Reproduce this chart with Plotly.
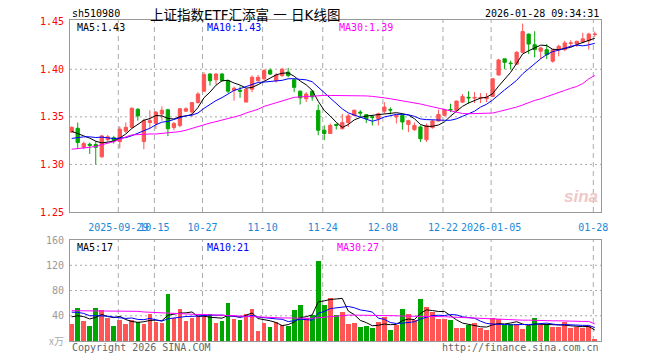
import numpy as np
import pandas as pd
import plotly.graph_objects as go

# ---------------- data ----------------
dates = [
    "2025-09-17", "2025-09-18", "2025-09-19", "2025-09-22", "2025-09-23", "2025-09-24", "2025-09-25", "2025-09-26",
    "2025-09-29", "2025-09-30", "2025-10-09", "2025-10-10", "2025-10-13", "2025-10-14", "2025-10-15", "2025-10-16",
    "2025-10-17", "2025-10-20", "2025-10-21", "2025-10-22", "2025-10-23", "2025-10-24", "2025-10-27", "2025-10-28",
    "2025-10-29", "2025-10-30", "2025-10-31", "2025-11-03", "2025-11-04", "2025-11-05", "2025-11-06", "2025-11-07",
    "2025-11-10", "2025-11-11", "2025-11-12", "2025-11-13", "2025-11-14", "2025-11-17", "2025-11-18", "2025-11-19",
    "2025-11-20", "2025-11-21", "2025-11-24", "2025-11-25", "2025-11-26", "2025-11-27", "2025-11-28", "2025-12-01",
    "2025-12-02", "2025-12-03", "2025-12-04", "2025-12-05", "2025-12-08", "2025-12-09", "2025-12-10", "2025-12-11",
    "2025-12-12", "2025-12-15", "2025-12-16", "2025-12-17", "2025-12-18", "2025-12-19", "2025-12-22", "2025-12-23",
    "2025-12-24", "2025-12-25", "2025-12-26", "2025-12-29", "2025-12-30", "2025-12-31", "2026-01-05", "2026-01-06",
    "2026-01-07", "2026-01-08", "2026-01-09", "2026-01-12", "2026-01-13", "2026-01-14", "2026-01-15", "2026-01-16",
    "2026-01-19", "2026-01-20", "2026-01-21", "2026-01-22", "2026-01-23", "2026-01-26", "2026-01-27", "2026-01-28",
]

opens = [
    1.334, 1.338, 1.318, 1.3212, 1.321, 1.308, 1.326, 1.328, 1.324, 1.335,
    1.339, 1.358, 1.324, 1.344, 1.343, 1.353, 1.3575, 1.3387, 1.341, 1.356,
    1.355, 1.365, 1.377, 1.395, 1.389, 1.395, 1.388, 1.378, 1.378, 1.3655,
    1.379, 1.388, 1.390, 1.399, 1.388, 1.3934, 1.397, 1.389, 1.377, 1.369,
    1.377, 1.3568, 1.336, 1.3325, 1.342, 1.3376, 1.344, 1.3516, 1.355, 1.3523,
    1.3501, 1.348, 1.356, 1.3578, 1.3498, 1.3515, 1.342, 1.3366, 1.3394, 1.326,
    1.3387, 1.3456, 1.3516, 1.3578, 1.3568, 1.3655, 1.3706, 1.3697, 1.3697, 1.369,
    1.3714, 1.394, 1.411, 1.4065, 1.4053, 1.4178, 1.437, 1.4258, 1.419, 1.4206,
    1.4085, 1.4206, 1.4206, 1.4272, 1.4266, 1.4287, 1.430, 1.4365,
]
highs = [
    1.340, 1.344, 1.324, 1.323, 1.3245, 1.331, 1.331, 1.330, 1.340, 1.344,
    1.360, 1.359, 1.348, 1.357, 1.356, 1.361, 1.3585, 1.3446, 1.3595, 1.360,
    1.3655, 1.376, 1.397, 1.396, 1.396, 1.396, 1.389, 1.382, 1.382, 1.380,
    1.3935, 1.394, 1.4003, 1.401, 1.396, 1.4015, 1.4014, 1.390, 1.3777, 1.376,
    1.378, 1.363, 1.341, 1.343, 1.343, 1.353, 1.353, 1.3575, 1.357, 1.353,
    1.3516, 1.3544, 1.3655, 1.360, 1.3526, 1.3526, 1.347, 1.344, 1.341, 1.3429,
    1.347, 1.3575, 1.3585, 1.3638, 1.367, 1.374, 1.377, 1.376, 1.375, 1.375,
    1.3906, 1.411, 1.411, 1.409, 1.419, 1.448, 1.4376, 1.440, 1.4237, 1.4265,
    1.421, 1.4258, 1.430, 1.4305, 1.430, 1.4384, 1.4384, 1.4395,
]
lows = [
    1.333, 1.316, 1.316, 1.311, 1.300, 1.307, 1.324, 1.322, 1.317, 1.333,
    1.338, 1.346, 1.316, 1.337, 1.337, 1.346, 1.3297, 1.336, 1.339, 1.355,
    1.350, 1.364, 1.376, 1.383, 1.384, 1.3875, 1.375, 1.367, 1.370, 1.3655,
    1.376, 1.387, 1.388, 1.394, 1.386, 1.392, 1.3916, 1.376, 1.363, 1.3655,
    1.367, 1.3307, 1.3255, 1.332, 1.3366, 1.3366, 1.3394, 1.3505, 1.350, 1.3436,
    1.341, 1.341, 1.3533, 1.3526, 1.343, 1.3366, 1.334, 1.3352, 1.3237, 1.3237,
    1.3376, 1.3453, 1.3505, 1.355, 1.356, 1.3645, 1.3638, 1.3645, 1.3645, 1.3655,
    1.3707, 1.3934, 1.400, 1.400, 1.405, 1.417, 1.416, 1.4125, 1.4108, 1.4108,
    1.407, 1.4136, 1.419, 1.4235, 1.4235, 1.4275, 1.4206, 1.434,
]
closes = [
    1.339, 1.323, 1.322, 1.3200, 1.318, 1.330, 1.329, 1.325, 1.337, 1.339,
    1.359, 1.351, 1.346, 1.346, 1.355, 1.357, 1.3376, 1.343, 1.3585, 1.3585,
    1.365, 1.374, 1.3944, 1.388, 1.395, 1.388, 1.377, 1.380, 1.377, 1.379,
    1.3916, 1.3916, 1.3986, 1.395, 1.394, 1.400, 1.3934, 1.381, 1.370, 1.374,
    1.371, 1.336, 1.3325, 1.341, 1.341, 1.344, 1.351, 1.357, 1.354, 1.348,
    1.3495, 1.3533, 1.3603, 1.3572, 1.3515, 1.3446, 1.346, 1.341, 1.327, 1.341,
    1.3456, 1.3526, 1.3575, 1.3572, 1.3666, 1.3714, 1.3700, 1.3704, 1.3704, 1.3707,
    1.390, 1.4098, 1.4073, 1.406, 1.4178, 1.4397, 1.4265, 1.4206, 1.4224, 1.4153,
    1.4205, 1.4242, 1.4277, 1.4277, 1.4294, 1.432, 1.437, 1.437,
]
# volume, 万手
volumes = [
    26.5, 53, 31.8, 23.3, 53, 48.8, 37, 23.3, 32.9, 27.6,
    34, 30.2, 27.6, 43.5, 30.2, 28.6, 74, 37, 51.4, 31.8,
    36, 39, 39, 42.4, 28.6, 31.8, 60.4, 35, 32.9, 43.5,
    50.4, 15.9, 28.6, 21.7, 29.7, 26, 23.9, 48.8, 56.7, 37,
    40.8, 126.7, 56.7, 67.8, 40.8, 45.6, 26.5, 28, 22.3, 23.3,
    20.7, 30.2, 38, 17, 26, 50.4, 42.4, 34, 66, 53.5,
    45.6, 34.5, 34.5, 32.9, 20, 20, 25, 28, 20, 17.5,
    37, 35.5, 25, 27.6, 27.6, 18.5, 24, 36, 26, 26,
    22, 22, 30.2, 20, 21.7, 20, 23, 2.7,
]
# MA30 lines
ma30 = [
    1.316, 1.3165, 1.317, 1.318, 1.319, 1.3205, 1.322, 1.324, 1.326, 1.329,
    1.331, 1.3315, 1.332, 1.332, 1.332, 1.3325, 1.333, 1.3335, 1.3345, 1.336,
    1.338, 1.340, 1.342, 1.3435, 1.345, 1.3465, 1.348, 1.350, 1.3515, 1.354,
    1.356, 1.358, 1.361, 1.363, 1.365, 1.367, 1.369, 1.3705, 1.371, 1.3715,
    1.372, 1.3725, 1.3725, 1.3725, 1.3725, 1.3725, 1.3725, 1.3725, 1.3725, 1.372,
    1.3715, 1.371, 1.370, 1.369, 1.368, 1.367, 1.366, 1.365, 1.3635, 1.362,
    1.3605, 1.359, 1.3575, 1.356, 1.3545, 1.3535, 1.3533, 1.3533, 1.3533, 1.3535,
    1.354, 1.3555, 1.357, 1.3585, 1.3603, 1.3625, 1.365, 1.3673, 1.369, 1.371,
    1.3732, 1.3755, 1.3778, 1.380, 1.3819, 1.385, 1.390, 1.3934,
]
vol_ma30 = [
    48, 48, 48, 48, 48, 48, 48, 48, 48, 47.5,
    47.5, 47, 46, 45.5, 45, 44.5, 44, 43, 42.5, 42.5,
    42, 42, 42, 41.5, 41.5, 41, 41, 40, 39.5, 39,
    38.5, 38, 37.5, 37, 37, 36.5, 36.5, 36, 36, 36,
    36, 37, 38, 39, 40, 41, 41, 41, 41, 41,
    40.5, 40.5, 40, 40, 40, 39.5, 39.5, 39.5, 39, 39,
    39, 38.5, 38.5, 38, 37.5, 37, 36.5, 36, 35.5, 35,
    34.5, 34, 33.5, 33.5, 33, 33, 33, 32.5, 32.5, 32,
    32, 32, 31.5, 31.5, 31.5, 31, 31, 27,
]
# closes / volumes of the sessions just before the window (for the 5/10-day averages)
prior_closes = [1.312, 1.316, 1.320, 1.325, 1.326, 1.333, 1.336, 1.332, 1.334]
prior_volumes = [55, 50, 60, 52, 48, 45, 38, 42, 40]

tick_dates = ["2025-09-29", "2025-10-15", "2025-10-27", "2025-11-10", "2025-11-24",
              "2025-12-08", "2025-12-22", "2026-01-05", "2026-01-28"]
tick_labels = ["2025-09-29", "10-15", "10-27", "11-10", "11-24",
               "12-08", "12-22", "2026-01-05", "01-28"]
price_ticks = [1.25, 1.30, 1.35, 1.40, 1.45]
vol_ticks = [40, 80, 120, 160]

n = len(dates)
for arr in (opens, highs, lows, closes, volumes, ma30, vol_ma30):
    assert len(arr) == n, len(arr)

# ---------------- derived ----------------
x = np.arange(n)
c_all = pd.Series(prior_closes + closes)
ma5 = c_all.rolling(5).mean().to_numpy()[len(prior_closes):]
ma10 = c_all.rolling(10).mean().to_numpy()[len(prior_closes):]
v_all = pd.Series(prior_volumes + volumes)
vma5 = v_all.rolling(5).mean().to_numpy()[len(prior_volumes):]
vma10 = v_all.rolling(10).mean().to_numpy()[len(prior_volumes):]

RED = "#ff5555"
GREEN = "#00a600"
GRID = "#aaaaaa"
up = [c >= o for o, c in zip(opens, closes)]
vol_colors = [RED if u else GREEN for u in up]

tick_pos = [dates.index(d) - 0.25 for d in tick_dates]

MONO = "DejaVu Sans Mono"

fig = go.Figure()
fig.add_trace(go.Candlestick(
    x=x, open=opens, high=highs, low=lows, close=closes,
    increasing=dict(line=dict(color=RED, width=1), fillcolor=RED),
    decreasing=dict(line=dict(color=GREEN, width=1), fillcolor=GREEN),
    whiskerwidth=0, xaxis="x", yaxis="y", hoverinfo="skip", showlegend=False,
))
for series, col in ((ma5, "#000000"), (ma10, "#0000ff"), (ma30, "#ff00ff")):
    fig.add_trace(go.Scatter(x=x, y=series, mode="lines", line=dict(color=col, width=1),
                             xaxis="x", yaxis="y", hoverinfo="skip", showlegend=False))

fig.add_trace(go.Bar(x=x, y=volumes, marker=dict(color=vol_colors, line=dict(width=0)),
                     width=0.78, xaxis="x2", yaxis="y2", hoverinfo="skip", showlegend=False))
for series, col in ((vma5, "#000000"), (vma10, "#0000ff"), (vol_ma30, "#ff00ff")):
    fig.add_trace(go.Scatter(x=x, y=series, mode="lines", line=dict(color=col, width=1),
                             xaxis="x2", yaxis="y2", hoverinfo="skip", showlegend=False))

# page pixel geometry (the page body adds an 8px offset)
OFF = 8
L, R, T, B = 70, 601, 20, 341          # plot area in page pixels
W, H = 660 - OFF, 360 - OFF             # figure size
PW, PH = R - L, B - T


def px(v):
    return (v - L) / PW


def py(v):
    return (B - v) / PH


xr = [-0.283, 88.03]
common_x = dict(range=xr, showgrid=False, tickvals=tick_pos, zeroline=False, showline=True, mirror=True,
                linecolor="#999999", linewidth=1, ticks="", fixedrange=True, automargin=False)

fig.update_layout(
    width=W, height=H, autosize=False,
    margin=dict(l=L - OFF, r=660 - R, t=T - OFF, b=360 - B, autoexpand=False),
    paper_bgcolor="white", plot_bgcolor="white",
    boxgap=0.22, bargap=0,
    xaxis=dict(**common_x, domain=[0, 1], anchor="y", ticktext=tick_labels, tickangle=0,
               tickfont=dict(family=MONO, size=10, color="#1a88d8"),
               ticklabelstandoff=6, rangeslider=dict(visible=False)),
    xaxis2=dict(**common_x, domain=[0, 1], anchor="y2", showticklabels=False),
    yaxis=dict(domain=[py(212), py(20)], range=[1.25, 1.4518], anchor="x",
               tickvals=price_ticks, ticktext=[f"{v:.2f}" for v in price_ticks],
               tickfont=dict(family=MONO, size=10, color="#ff0000"),
               showgrid=False, zeroline=False, automargin=False,
               showline=True, mirror=True, linecolor="#999999", ticks="", ticklabelstandoff=3),
    yaxis2=dict(domain=[0, py(240)], range=[0, 160], anchor="x2",
                tickvals=vol_ticks, ticktext=[str(v) for v in vol_ticks],
                tickfont=dict(family=MONO, size=10, color="#999999"),
                showgrid=False, zeroline=False, automargin=False,
                showline=True, mirror=True, linecolor="#999999", ticks="", ticklabelstandoff=3),
)

# grid lines
for xp in tick_pos:
    for xa, ya, lo, hi in (("x", "y", 1.25, 1.4518), ("x2", "y2", 0, 160)):
        fig.add_shape(type="line", xref=xa, yref=ya, x0=xp, x1=xp, y0=lo, y1=hi,
                      line=dict(color=GRID, width=1, dash="5px,4px"), layer="below")
for yv in price_ticks[1:-1]:
    fig.add_shape(type="line", xref="x", yref="y", x0=xr[0], x1=xr[1], y0=yv, y1=yv,
                  line=dict(color=GRID, width=1, dash="2px,3px"), layer="below")
for yv in vol_ticks[:-1]:
    fig.add_shape(type="line", xref="x2", yref="y2", x0=xr[0], x1=xr[1], y0=yv, y1=yv,
                  line=dict(color=GRID, width=1, dash="2px,3px"), layer="below")


def note(text, xp, yp, color="#000000", size=10, family=MONO, xanchor="left", **kw):
    fig.add_annotation(text=text, x=px(xp), y=py(yp), xref="paper", yref="paper",
                       xanchor=xanchor, yanchor="middle", showarrow=False,
                       font=dict(family=family, size=size, color=color), **kw)


note("sh510980", 70, 13)
note("上证指数ETF汇添富 一 日K线图", 245, 15, size=13.5,
     family="DejaVu Sans, Noto Sans CJK SC", xanchor="center", borderpad=0)
note("2026-01-28 09:34:31", 601, 13, xanchor="right")

note(f"MA5:{ma5[-1]:.2f}", 75, 27)
note(f"MA10:{ma10[-1]:.2f}", 205, 27, color="#0000ff")
note(f"MA30:{ma30[-1]:.2f}", 337, 27, color="#ff00ff")

note(f"MA5:{int(vma5[-1])}", 75, 247)
note(f"MA10:{int(vma10[-1])}", 205, 247, color="#0000ff")
note(f"MA30:{int(vol_ma30[-1])}", 335, 247, color="#ff00ff")

note("x万", 66, 340, color="#aaaaaa", family="Noto Sans CJK SC", xanchor="right")
note("Copyright 2026 SINA.COM", 70, 348, color="#666666")
note("http://finance.sina.com.cn", 601, 348, color="#666666", xanchor="right")
note("<b><i>sina</i></b>", 581, 197, color="#f0c8c8", size=17, family="Liberation Sans", xanchor="center")

fig.write_html("out.html")
